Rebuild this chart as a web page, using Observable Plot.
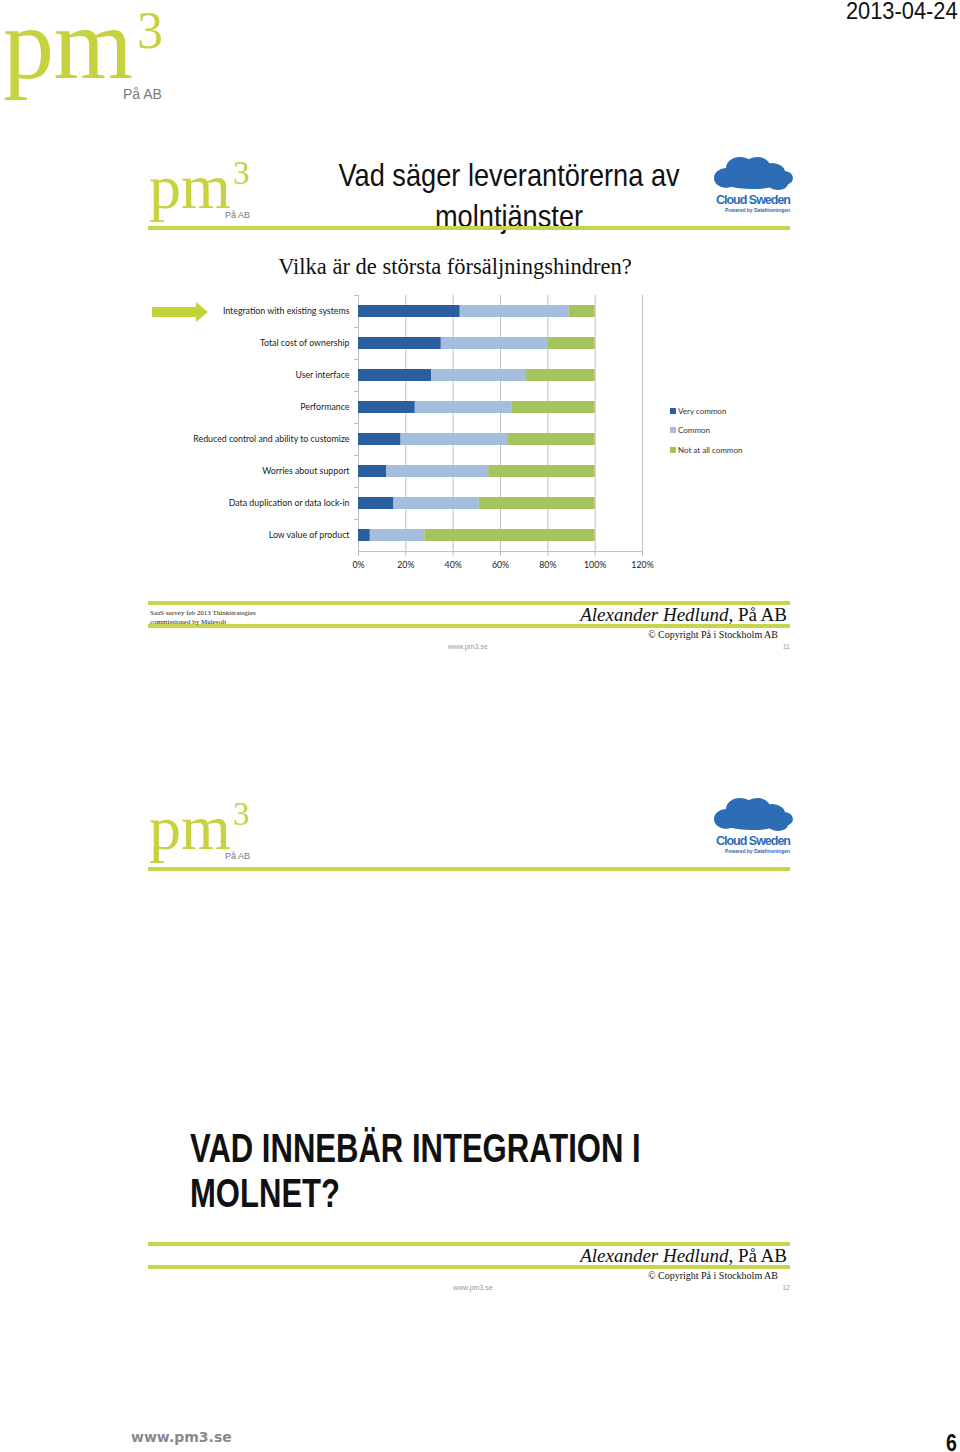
<!DOCTYPE html>
<html><head><meta charset="utf-8">
<script src="https://cdn.jsdelivr.net/npm/d3@7"></script>
<script src="https://cdn.jsdelivr.net/npm/@observablehq/plot@0.6"></script>
<style>
body{margin:0;background:#fff;}
#page{position:relative;width:960px;height:1452px;overflow:hidden;background:#fff;font-family:"Liberation Sans",Arial,sans-serif;}
.a{position:absolute;white-space:nowrap;line-height:1;}
.narrow{font-family:"Liberation Sans",Arial,sans-serif;}
.serif{font-family:"Liberation Serif","Times New Roman",serif;}
.pm{color:#C6D240;font-family:"Liberation Serif","Times New Roman",serif;}
.pa{color:#7a7a7a;font-family:"Liberation Sans",Arial,sans-serif;}
.gl{position:absolute;background:#C8D44C;}
.lg{position:absolute;font-family:Lato,"Liberation Sans",sans-serif;font-size:8px;color:#333;line-height:1;white-space:nowrap;}
.lg i{display:inline-block;width:6px;height:6px;margin-right:2px;vertical-align:0px;}
</style></head><body><div id="page">

<!-- page header -->
<div class="a narrow" style="right:2px;top:0px;font-size:23px;color:#111;transform:scaleX(0.95);transform-origin:right top;">2013-04-24</div>
<div class="a pm" style="left:3px;top:-7px;font-size:102px;letter-spacing:-0.5px;">pm</div>
<div class="a pm" style="left:137px;top:5px;font-size:52px;">3</div>
<div class="a pa" style="left:123px;top:87px;font-size:14px;">På AB</div>

<!-- slide 1 -->
<div class="a pm" style="left:149px;top:155px;font-size:64px;letter-spacing:0px;">pm</div>
<div class="a pm" style="left:233px;top:157px;font-size:33px;">3</div>
<div class="a pa" style="left:225px;top:211px;font-size:9px;">På AB</div>
<div class="a narrow" style="left:509px;top:155px;transform:translateX(-50%) scaleX(0.85);font-size:32px;color:#111;text-align:center;line-height:41px;">Vad säger leverantörerna av<br>molntjänster</div>
<svg class="a" style="left:712px;top:156px;" width="84" height="62" viewBox="0 0 84 62">
  <g fill="#2C6DB6">
    <ellipse cx="14" cy="22" rx="12" ry="10"/><ellipse cx="28" cy="12" rx="14" ry="11"/><ellipse cx="45" cy="10" rx="13" ry="9"/>
    <ellipse cx="60" cy="16" rx="13" ry="9"/><ellipse cx="72" cy="22" rx="9" ry="7"/><ellipse cx="40" cy="24" rx="34" ry="9"/>
    <ellipse cx="66" cy="28" rx="10" ry="6"/>
  </g>
  <text x="4" y="48" font-family="Liberation Sans,Arial,sans-serif" font-weight="bold" font-size="12.5" fill="#2C6DB6" textLength="75">Cloud Sweden</text>
  <text x="13" y="56" font-family="Liberation Sans,Arial,sans-serif" font-weight="bold" font-size="5" fill="#2C6DB6" textLength="65">Powered by Dataföreningen</text>
</svg>
<div class="gl" style="left:148px;top:226px;width:642px;height:4px;"></div>
<div class="a serif" style="left:455px;top:256px;transform:translateX(-50%);font-size:22.5px;color:#111;">Vilka är de största försäljningshindren?</div>

<svg class="a" style="left:150px;top:300px;" width="62" height="24" viewBox="0 0 62 24">
  <polygon points="2,7 46,7 46,2 58,12 46,22 46,17 2,17" fill="#C3D33A"/>
</svg>

<div id="chart" class="a" style="left:150px;top:286px;"></div>

<div class="lg" style="left:670px;top:407px;"><i style="background:#2A5E9E"></i>Very common</div>
<div class="lg" style="left:670px;top:426px;"><i style="background:#A4BEE0"></i>Common</div>
<div class="lg" style="left:670px;top:446px;"><i style="background:#A7C35F"></i>Not at all common</div>

<div class="gl" style="left:148px;top:601px;width:642px;height:4px;"></div>
<div class="gl" style="left:148px;top:624px;width:642px;height:4px;"></div>
<div class="a serif" style="left:150px;top:609px;font-size:7px;color:#222;line-height:9px;">SaaS survey feb 2013 Thinkstrategies<br>commissioned by Mulesoft</div>
<div class="a serif" style="right:173px;top:605px;font-size:19px;color:#111;"><i>Alexander Hedlund</i>, På AB</div>
<div class="a serif" style="right:182px;top:630px;font-size:10px;color:#111;">© Copyright På i Stockholm AB</div>
<div class="a" style="left:448px;top:643px;font-size:7px;color:#999;">www.pm3.se</div>
<div class="a" style="right:170px;top:643px;font-size:7px;color:#999;">11</div>

<!-- slide 2 -->
<div class="a pm" style="left:149px;top:796px;font-size:64px;letter-spacing:0px;">pm</div>
<div class="a pm" style="left:233px;top:798px;font-size:33px;">3</div>
<div class="a pa" style="left:225px;top:852px;font-size:9px;">På AB</div>
<svg class="a" style="left:712px;top:797px;" width="84" height="62" viewBox="0 0 84 62">
  <g fill="#2C6DB6">
    <ellipse cx="14" cy="22" rx="12" ry="10"/><ellipse cx="28" cy="12" rx="14" ry="11"/><ellipse cx="45" cy="10" rx="13" ry="9"/>
    <ellipse cx="60" cy="16" rx="13" ry="9"/><ellipse cx="72" cy="22" rx="9" ry="7"/><ellipse cx="40" cy="24" rx="34" ry="9"/>
    <ellipse cx="66" cy="28" rx="10" ry="6"/>
  </g>
  <text x="4" y="48" font-family="Liberation Sans,Arial,sans-serif" font-weight="bold" font-size="12.5" fill="#2C6DB6" textLength="75">Cloud Sweden</text>
  <text x="13" y="56" font-family="Liberation Sans,Arial,sans-serif" font-weight="bold" font-size="5" fill="#2C6DB6" textLength="65">Powered by Dataföreningen</text>
</svg>
<div class="gl" style="left:148px;top:867px;width:642px;height:4px;"></div>
<div class="a narrow" style="left:190px;top:1126px;font-size:40px;font-weight:bold;color:#111;line-height:45px;transform:scaleX(0.776);transform-origin:left top;">VAD INNEBÄR INTEGRATION I<br>MOLNET?</div>
<div class="gl" style="left:148px;top:1242px;width:642px;height:4px;"></div>
<div class="gl" style="left:148px;top:1265px;width:642px;height:4px;"></div>
<div class="a serif" style="right:173px;top:1246px;font-size:19px;color:#111;"><i>Alexander Hedlund</i>, På AB</div>
<div class="a serif" style="right:182px;top:1271px;font-size:10px;color:#111;">© Copyright På i Stockholm AB</div>
<div class="a" style="left:453px;top:1284px;font-size:7px;color:#999;">www.pm3.se</div>
<div class="a" style="right:170px;top:1284px;font-size:7px;color:#999;">12</div>

<!-- page footer -->
<div class="a" style="left:131px;top:1430px;font-family:'DejaVu Sans',Verdana,sans-serif;font-weight:bold;font-size:14px;color:#8a8a8a;">www.pm3.se</div>
<div class="a narrow" style="right:3px;top:1432px;font-weight:bold;font-size:23px;color:#111;transform:scaleX(0.85);transform-origin:right top;">6</div>

</div>
<script>
const categories = [
  "Integration with existing systems",
  "Total cost of ownership",
  "User interface",
  "Performance",
  "Reduced control and ability to customize",
  "Worries about support",
  "Data duplication or data lock-in",
  "Low value of product"
];
const levels = ["Very common", "Common", "Not at all common"];
const veryCommon = [43, 35, 31, 24, 18, 12, 15, 5];
const common     = [46, 45, 40, 41, 45, 43, 36, 23];
const notAtAll   = [11, 20, 29, 35, 37, 45, 49, 72];
const levelColors = ["#2A5E9E", "#A4BEE0", "#A7C35F"];
const xTicks = [0, 20, 40, 60, 80, 100, 120];

const table = categories.flatMap((c, i) => [
  {category: c, level: levels[0], value: veryCommon[i]},
  {category: c, level: levels[1], value: common[i]},
  {category: c, level: levels[2], value: notAtAll[i]}
]);

const W = 510, H = 300, mT = 9, mB = 34, mL = 208, mR = 18;
const step = (H - mT - mB) / categories.length;
const grid = "#BEBEBE";

const chart = Plot.plot({
  width: W, height: H,
  marginTop: mT, marginBottom: mB, marginLeft: mL, marginRight: mR,
  style: {fontFamily: "Lato, 'Liberation Sans', sans-serif", fontSize: "8.8px", color: "#222", background: "transparent"},
  x: {domain: [0, 120], ticks: xTicks, tickFormat: d => d + "%"},
  y: {domain: categories, paddingInner: 0.62, paddingOuter: 0.31},
  color: {domain: levels, range: levelColors},
  marks: [
    Plot.ruleX(xTicks, {stroke: grid, insetBottom: -4}),
    Plot.ruleY([categories[categories.length - 1]], {dy: step / 2, stroke: grid}),
    Plot.ruleY(categories, {dy: -step / 2, x1: 0, x2: 0, insetLeft: -4, stroke: grid}),
    Plot.barX(table, {y: "category", x: "value", fill: "level"}),
    Plot.axisX({ticks: xTicks, tickFormat: d => d + "%", tickSize: 0, tickPadding: 9, label: null}),
    Plot.axisY({tickSize: 0, tickPadding: 9, label: null})
  ]
});
document.getElementById("chart").appendChild(chart);
</script>
</body></html>
